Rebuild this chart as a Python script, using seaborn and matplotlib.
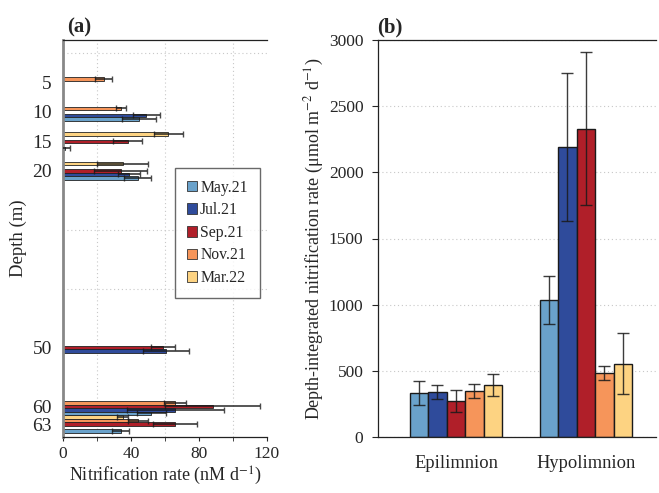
import numpy as np
import pandas as pd
import matplotlib
matplotlib.use('Agg')
import matplotlib.pyplot as plt
import seaborn as sns
from matplotlib.patches import Patch
from matplotlib.ticker import MultipleLocator, FixedLocator

# ---------------- data ----------------
months = ['May.21', 'Jul.21', 'Sep.21', 'Nov.21', 'Mar.22']
colors = ['#6aa2cb', '#2f4b9b', '#b01f29', '#f6955a', '#fdd382']

depth_ticks = [5, 10, 15, 20, 50, 60, 63]

may_depth = [10, 15, 20, 60, 63]
may_rate = [44.5, 1.0, 44, 52, 34]
may_sd = [10, 3.3, 8, 8.5, 5]

jul_depth = [10, 20, 50, 60]
jul_rate = [49, 39, 60.5, 66]
jul_sd = [8, 6.5, 13.5, 28.5]

sep_depth = [15, 20, 50, 60, 63]
sep_rate = [38, 34, 59, 88, 66]
sep_sd = [8.5, 15.5, 7, 28, 13]

nov_depth = [5, 10, 60, 63]
nov_rate = [24, 34, 66, 44]
nov_sd = [5, 3, 6.6, 6]

mar_depth = [15, 20, 63]
mar_rate = [62, 35, 35]
mar_sd = [8.5, 15, 3]

layers = ['Epilimnion', 'Hypolimnion']
int_may = [330, 1035]
int_may_sd = [90, 178]
int_jul = [340, 2190]
int_jul_sd = [55, 560]
int_sep = [270, 2330]
int_sep_sd = [82, 578]
int_nov = [348, 485]
int_nov_sd = [50, 52]
int_mar = [395, 555]
int_mar_sd = [82, 232]

# ---------------- tables ----------------
rows_a = []
for m, d, r, s in [(months[0], may_depth, may_rate, may_sd),
                   (months[1], jul_depth, jul_rate, jul_sd),
                   (months[2], sep_depth, sep_rate, sep_sd),
                   (months[3], nov_depth, nov_rate, nov_sd),
                   (months[4], mar_depth, mar_rate, mar_sd)]:
    for dd, rr, ss in zip(d, r, s):
        rows_a.append({'month': m, 'depth': dd, 'rate': rr, 'sd': ss})
df_a = pd.DataFrame(rows_a)

rows_b = []
for m, v, s in [(months[0], int_may, int_may_sd),
                (months[1], int_jul, int_jul_sd),
                (months[2], int_sep, int_sep_sd),
                (months[3], int_nov, int_nov_sd),
                (months[4], int_mar, int_mar_sd)]:
    for lay, vv, ss in zip(layers, v, s):
        rows_b.append({'month': m, 'layer': lay, 'rate': vv, 'sd': ss})
df_b = pd.DataFrame(rows_b)

palette = dict(zip(months, colors))

# ---------------- style ----------------
sns.set_style('ticks')
plt.rcParams['font.family'] = ['Liberation Serif', 'DejaVu Serif']
plt.rcParams['mathtext.fontset'] = 'stix'
plt.rcParams['font.size'] = 12.5

fig = plt.figure(figsize=(6.59, 4.93), dpi=100)
ax_a = fig.add_axes([63/659, 1-437/493, 204/659, 397/493])
ax_b = fig.add_axes([378/659, 1-437/493, 278/659, 397/493])

grid_kw = dict(color='#c8c8c8', linestyle=(0, (1, 2.5)), linewidth=0.8)

# ---------------- panel (a) ----------------
hue_order_a = [months[4], months[3], months[2], months[1], months[0]]
sns.barplot(data=df_a, x='rate', y='depth', hue='month', hue_order=hue_order_a,
            orient='h', native_scale=True, width=1.0, palette=palette,
            saturation=1, errorbar=None, edgecolor='#222222', linewidth=0.6,
            legend=False, ax=ax_a, zorder=2)
for cont, m in zip(ax_a.containers, hue_order_a):
    sub = df_a[df_a['month'] == m]
    for bar in cont:
        yc = bar.get_y() + bar.get_height() / 2
        row = sub.iloc[np.argmin(np.abs(sub['depth'].values - yc))]
        ax_a.errorbar(bar.get_width(), yc, xerr=row['sd'], fmt='none',
                      ecolor='#1a1a1a', elinewidth=1.3, capsize=2.2,
                      capthick=1.0, alpha=0.8, zorder=3)

ax_a.set_xlim(0, 120)
ax_a.set_ylim(65.2, -2.2)
ax_a.xaxis.set_major_locator(FixedLocator([0, 40, 80, 120]))
ax_a.xaxis.set_minor_locator(MultipleLocator(20))
ax_a.yaxis.set_major_locator(FixedLocator(depth_ticks))
ax_a.set_yticklabels([str(d) for d in depth_ticks], fontsize=14)
ax_a.yaxis.set_minor_locator(FixedLocator([0, 10, 20, 30, 40, 50, 60]))
ax_a.tick_params(axis='y', which='both', length=0, pad=8)
ax_a.tick_params(axis='x', which='both', length=3, direction='out', labelsize=12.5)
ax_a.grid(True, which='minor', **grid_kw)
ax_a.set_axisbelow(True)
ax_a.set_xlabel('Nitrification rate (nM d$^{-1}$)', fontsize=13, labelpad=2)
ax_a.set_ylabel('Depth (m)', fontsize=13.5, labelpad=4)
for side in ['top', 'bottom']:
    ax_a.spines[side].set_color('#222222')
    ax_a.spines[side].set_linewidth(0.9)
ax_a.spines['right'].set_visible(False)
ax_a.spines['left'].set_color('#888888')
ax_a.spines['left'].set_linewidth(2.0)

handles = [Patch(facecolor=palette[m], edgecolor='#333333', linewidth=0.6) for m in months]
leg = ax_a.legend(handles, months, loc='upper left', bbox_to_anchor=(0.549, 0.678),
                  borderaxespad=0, frameon=True, fancybox=False, fontsize=11.3,
                  handlelength=0.65, handleheight=0.65, handletextpad=0.2,
                  labelspacing=0.42, borderpad=0.75)
leg.get_frame().set_edgecolor('#444444')
leg.get_frame().set_linewidth(1.0)

fig.text(67/659, 1-27/493, '(a)', fontsize=15, fontweight='bold', va='center', ha='left')

# ---------------- panel (b) ----------------
sns.barplot(data=df_b, x='layer', y='rate', hue='month', hue_order=months,
            order=layers, palette=palette, saturation=1, width=0.71,
            errorbar=None, edgecolor='#1a1a1a', linewidth=1.0, legend=False,
            ax=ax_b, zorder=2)
for cont, m in zip(ax_b.containers, months):
    sub = df_b[df_b['month'] == m]
    for bar in cont:
        xc = bar.get_x() + bar.get_width() / 2
        row = sub[sub['layer'] == layers[int(round(xc))]].iloc[0]
        ax_b.errorbar(xc, bar.get_height(), yerr=row['sd'], fmt='none',
                      ecolor='#1a1a1a', elinewidth=1.0, capsize=4.5,
                      capthick=1.0, alpha=0.85, zorder=3)

ax_b.set_ylim(0, 3000)
ax_b.set_xlim(-0.6, 1.54)
ax_b.yaxis.set_major_locator(MultipleLocator(500))
ax_b.grid(True, axis='y', which='major', **grid_kw)
ax_b.set_axisbelow(True)
ax_b.tick_params(axis='y', length=4.5, direction='out', pad=6, labelsize=12.5)
ax_b.tick_params(axis='x', length=0, pad=13, labelsize=13.3)
ax_b.set_xlabel('')
ax_b.set_ylabel('Depth-integrated nitrification rate (μmol m$^{-2}$ d$^{-1}$)',
                fontsize=13, labelpad=2)
for side in ['top', 'bottom', 'left']:
    ax_b.spines[side].set_color('#222222')
    ax_b.spines[side].set_linewidth(0.9)
ax_b.spines['right'].set_visible(False)

fig.text(377/659, 1-27/493, '(b)', fontsize=15, fontweight='bold', va='center', ha='left')

fig.savefig('out.png', dpi=100)
